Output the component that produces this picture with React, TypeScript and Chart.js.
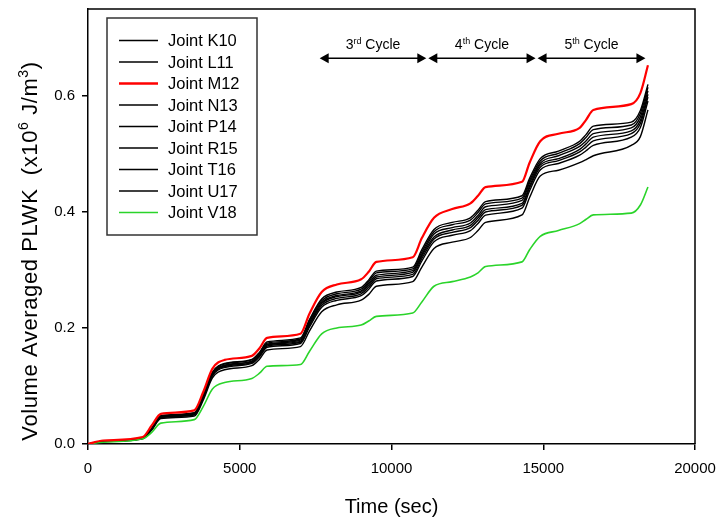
import React, { useEffect, useRef } from 'react';
import { Chart, registerables } from 'chart.js';

Chart.register(...registerables);

const FONT = '"Liberation Sans", Arial, sans-serif';

// Time (sec)
const TIMES = [0, 500, 1800, 2100, 2400, 3500, 3800, 4100, 4500, 5400, 5650, 5900, 7000, 7300, 7700, 8200, 9000, 9250, 9500, 10700, 11000, 11400, 12000, 12600, 12850, 13100, 14300, 14550, 14900, 15500, 16200, 16400, 16650, 17900, 18200, 18450];

// Volume averaged PLWK (x10^6 J/m^3)
const K10 = [0, 0.005, 0.011, 0.027, 0.048, 0.053, 0.084, 0.123, 0.138, 0.145, 0.157, 0.174, 0.181, 0.213, 0.247, 0.259, 0.267, 0.28, 0.295, 0.302, 0.331, 0.366, 0.378, 0.386, 0.399, 0.414, 0.424, 0.454, 0.488, 0.501, 0.518, 0.528, 0.542, 0.55, 0.57, 0.615];
const L11 = [0, 0.005, 0.011, 0.027, 0.049, 0.054, 0.085, 0.124, 0.139, 0.146, 0.158, 0.176, 0.183, 0.215, 0.25, 0.262, 0.27, 0.283, 0.298, 0.305, 0.335, 0.37, 0.382, 0.39, 0.403, 0.418, 0.428, 0.458, 0.492, 0.505, 0.522, 0.533, 0.548, 0.555, 0.575, 0.62];
const M12 = [0, 0.006, 0.012, 0.032, 0.052, 0.058, 0.09, 0.13, 0.145, 0.152, 0.165, 0.183, 0.19, 0.225, 0.262, 0.275, 0.284, 0.297, 0.314, 0.322, 0.355, 0.39, 0.405, 0.415, 0.428, 0.443, 0.452, 0.485, 0.522, 0.535, 0.545, 0.558, 0.576, 0.586, 0.605, 0.653];
const N13 = [0, 0.005, 0.01, 0.026, 0.048, 0.052, 0.083, 0.122, 0.136, 0.143, 0.155, 0.172, 0.179, 0.21, 0.244, 0.256, 0.264, 0.277, 0.291, 0.299, 0.327, 0.362, 0.373, 0.381, 0.394, 0.409, 0.42, 0.45, 0.484, 0.497, 0.513, 0.522, 0.535, 0.545, 0.564, 0.609];
const P14 = [0, 0.005, 0.01, 0.026, 0.047, 0.052, 0.082, 0.12, 0.135, 0.142, 0.153, 0.171, 0.177, 0.207, 0.242, 0.254, 0.262, 0.274, 0.288, 0.296, 0.324, 0.357, 0.369, 0.377, 0.39, 0.404, 0.415, 0.445, 0.481, 0.492, 0.508, 0.517, 0.529, 0.54, 0.558, 0.603];
const R15 = [0, 0.0045, 0.01, 0.0255, 0.0465, 0.051, 0.0805, 0.119, 0.1335, 0.1405, 0.152, 0.169, 0.1755, 0.205, 0.239, 0.251, 0.259, 0.2705, 0.285, 0.2925, 0.32, 0.3535, 0.365, 0.373, 0.3855, 0.4, 0.4115, 0.4415, 0.477, 0.4885, 0.5035, 0.5115, 0.5225, 0.535, 0.5525, 0.598];
const T16 = [0, 0.004, 0.009, 0.024, 0.044, 0.048, 0.076, 0.114, 0.128, 0.135, 0.146, 0.162, 0.168, 0.195, 0.228, 0.24, 0.248, 0.258, 0.272, 0.28, 0.305, 0.337, 0.348, 0.356, 0.368, 0.382, 0.395, 0.425, 0.462, 0.472, 0.485, 0.49, 0.497, 0.515, 0.53, 0.576];
const U17 = [0, 0.0044, 0.0097, 0.025, 0.0458, 0.0501, 0.0792, 0.1175, 0.1319, 0.1389, 0.1502, 0.1669, 0.1733, 0.202, 0.2357, 0.2477, 0.2557, 0.2668, 0.2811, 0.2888, 0.3155, 0.3486, 0.3599, 0.3679, 0.3803, 0.3946, 0.4066, 0.4366, 0.4725, 0.4836, 0.498, 0.5051, 0.5149, 0.529, 0.5458, 0.5914];
const V18 = [0, 0.003, 0.009, 0.02, 0.036, 0.042, 0.065, 0.095, 0.106, 0.113, 0.122, 0.134, 0.137, 0.16, 0.19, 0.2, 0.205, 0.212, 0.22, 0.226, 0.245, 0.272, 0.28, 0.288, 0.295, 0.306, 0.314, 0.335, 0.358, 0.368, 0.38, 0.387, 0.395, 0.398, 0.412, 0.443];

const SERIES_LABELS = ['Joint K10', 'Joint L11', 'Joint M12', 'Joint N13', 'Joint P14', 'Joint R15', 'Joint T16', 'Joint U17', 'Joint V18'];
const SERIES_VALUES = [K10, L11, M12, N13, P14, R15, T16, U17, V18];
const SERIES_COLORS = ['#000000', '#000000', '#ff0000', '#000000', '#000000', '#000000', '#000000', '#000000', '#2ad42a'];

const X_TICKS = [0, 5000, 10000, 15000, 20000];
const Y_TICKS = [0, 0.2, 0.4, 0.6];

// Cycle annotation
const CYCLE_BOUNDS = [7600, 11180, 14780, 18400];
const CYCLE_NUMS = ['3', '4', '5'];
const CYCLE_SUPS = ['rd', 'th', 'th'];
const CYCLE_ARROW_Y = 0.665;
const CYCLE_LABEL_Y = 0.69;

type Seg = { t: string; sup?: boolean };

function richWidth(ctx: CanvasRenderingContext2D, segs: Seg[], size: number, supSize: number) {
  let w = 0;
  for (const s of segs) {
    ctx.font = `${s.sup ? supSize : size}px ${FONT}`;
    w += ctx.measureText(s.t).width;
  }
  return w;
}

function drawRich(ctx: CanvasRenderingContext2D, segs: Seg[], x: number, y: number, size: number, supSize: number, rise: number) {
  let cx = x;
  ctx.textAlign = 'left';
  ctx.textBaseline = 'alphabetic';
  for (const s of segs) {
    ctx.font = `${s.sup ? supSize : size}px ${FONT}`;
    ctx.fillText(s.t, cx, s.sup ? y - rise : y);
    cx += ctx.measureText(s.t).width;
  }
}

const overlay = {
  id: 'overlay',
  afterDraw(chart: any) {
    const { ctx, chartArea: a, scales } = chart;
    const xs = scales.x;
    const ys = scales.y;
    ctx.save();
    ctx.fillStyle = '#000';
    ctx.strokeStyle = '#000';

    // frame top / right
    ctx.lineWidth = 1.5;
    ctx.beginPath();
    ctx.moveTo(a.left, a.top);
    ctx.lineTo(a.right, a.top);
    ctx.lineTo(a.right, a.bottom);
    ctx.stroke();

    // legend
    const lx = 107, ly = 18, lw = 150, lh = 217;
    ctx.fillStyle = '#fff';
    ctx.fillRect(lx, ly, lw, lh);
    ctx.strokeStyle = '#333';
    ctx.lineWidth = 1.5;
    ctx.strokeRect(lx, ly, lw, lh);
    chart.data.datasets.forEach((ds: any, i: number) => {
      const yy = 40.5 + i * 21.5;
      ctx.strokeStyle = ds.borderColor;
      ctx.lineWidth = ds.borderColor === '#ff0000' ? 2.4 : 1.6;
      ctx.beginPath();
      ctx.moveTo(119, yy);
      ctx.lineTo(158, yy);
      ctx.stroke();
      ctx.fillStyle = '#000';
      ctx.font = `16.5px ${FONT}`;
      ctx.textAlign = 'left';
      ctx.textBaseline = 'middle';
      ctx.fillText(ds.label, 168, yy + 1);
    });

    // cycle arrows
    ctx.fillStyle = '#000';
    ctx.strokeStyle = '#000';
    const ay = ys.getPixelForValue(CYCLE_ARROW_Y);
    const ty = ys.getPixelForValue(CYCLE_LABEL_Y);
    for (let i = 0; i < CYCLE_NUMS.length; i++) {
      const x1 = xs.getPixelForValue(CYCLE_BOUNDS[i]) + 1;
      const x2 = xs.getPixelForValue(CYCLE_BOUNDS[i + 1]) - 1;
      ctx.lineWidth = 1.5;
      ctx.beginPath();
      ctx.moveTo(x1 + 6, ay);
      ctx.lineTo(x2 - 6, ay);
      ctx.stroke();
      ctx.beginPath();
      ctx.moveTo(x1, ay);
      ctx.lineTo(x1 + 9, ay - 5);
      ctx.lineTo(x1 + 9, ay + 5);
      ctx.closePath();
      ctx.fill();
      ctx.beginPath();
      ctx.moveTo(x2, ay);
      ctx.lineTo(x2 - 9, ay - 5);
      ctx.lineTo(x2 - 9, ay + 5);
      ctx.closePath();
      ctx.fill();
      const segs: Seg[] = [{ t: CYCLE_NUMS[i] }, { t: CYCLE_SUPS[i], sup: true }, { t: ' Cycle' }];
      const w = richWidth(ctx, segs, 14, 9);
      drawRich(ctx, segs, (x1 + x2) / 2 - w / 2, ty + 5, 14, 9, 5);
    }

    // x title
    ctx.font = `20px ${FONT}`;
    ctx.textAlign = 'center';
    ctx.textBaseline = 'alphabetic';
    ctx.fillText('Time (sec)', (a.left + a.right) / 2, 513);

    // y title
    const ySegs: Seg[] = [
      { t: 'Volume Averaged PLWK  (x10' },
      { t: '6', sup: true },
      { t: ' J/m' },
      { t: '3', sup: true },
      { t: ')' },
    ];
    ctx.save();
    ctx.translate(37, 0);
    ctx.rotate(-Math.PI / 2);
    try { (ctx as any).letterSpacing = '0.6px'; } catch (e) { /* ignore */ }
    const yw = richWidth(ctx, ySegs, 22, 14);
    const cy = 251;
    drawRich(ctx, ySegs, -cy - yw / 2, 0, 22, 14, 9);
    ctx.restore();

    ctx.restore();
  },
};

export default function App() {
  const ref = useRef<HTMLCanvasElement>(null);

  useEffect(() => {
    if (!ref.current) return;
    const datasets = SERIES_LABELS.map((label, i) => ({
      label,
      data: TIMES.map((t, j) => ({ x: t, y: SERIES_VALUES[i][j] })),
      borderColor: SERIES_COLORS[i],
      backgroundColor: SERIES_COLORS[i],
      borderWidth: i === 2 ? 2.2 : i === 8 ? 1.6 : 1.4,
      pointRadius: 0,
      fill: false,
      cubicInterpolationMode: 'monotone' as const,
      order: i === 2 ? 0 : i === 8 ? 1 : 2,
    }));

    const chart = new Chart(ref.current, {
      type: 'line',
      data: { datasets },
      plugins: [overlay],
      options: {
        responsive: false,
        animation: false,
        devicePixelRatio: 1,
        layout: { padding: { top: 9, right: 27, left: 0, bottom: 0 } },
        plugins: {
          legend: { display: false },
          tooltip: { enabled: false },
        },
        scales: {
          x: {
            type: 'linear',
            min: 0,
            max: 20000,
            afterBuildTicks: (s: any) => {
              s.ticks = X_TICKS.map((v) => ({ value: v }));
            },
            afterFit: (s: any) => {
              s.height = 74;
              s.paddingLeft = 0;
              s.paddingRight = 0;
            },
            ticks: {
              font: { size: 15, family: FONT },
              color: '#000',
              padding: 10,
              maxRotation: 0,
              callback: (v: any) => String(v),
            },
            grid: {
              display: true,
              drawOnChartArea: false,
              drawTicks: true,
              tickLength: 6,
              color: '#000',
              lineWidth: 1.5,
            },
            border: { display: true, color: '#000', width: 1.5 },
          },
          y: {
            type: 'linear',
            min: 0,
            max: 0.75,
            afterBuildTicks: (s: any) => {
              s.ticks = Y_TICKS.map((v) => ({ value: v }));
            },
            afterFit: (s: any) => {
              s.width = 88;
              s.paddingTop = 0;
              s.paddingBottom = 0;
            },
            ticks: {
              font: { size: 15, family: FONT },
              color: '#000',
              padding: 7,
              callback: (v: any) => Number(v).toFixed(1),
            },
            grid: {
              display: true,
              drawOnChartArea: false,
              drawTicks: true,
              tickLength: 6,
              color: '#000',
              lineWidth: 1.5,
            },
            border: { display: true, color: '#000', width: 1.5 },
          },
        },
      },
    });
    return () => chart.destroy();
  }, []);

  return (
    <div style={{ position: 'absolute', left: 0, top: 0, width: 722, height: 518, background: '#fff' }}>
      <canvas ref={ref} width={722} height={518} style={{ display: 'block' }} />
    </div>
  );
}
